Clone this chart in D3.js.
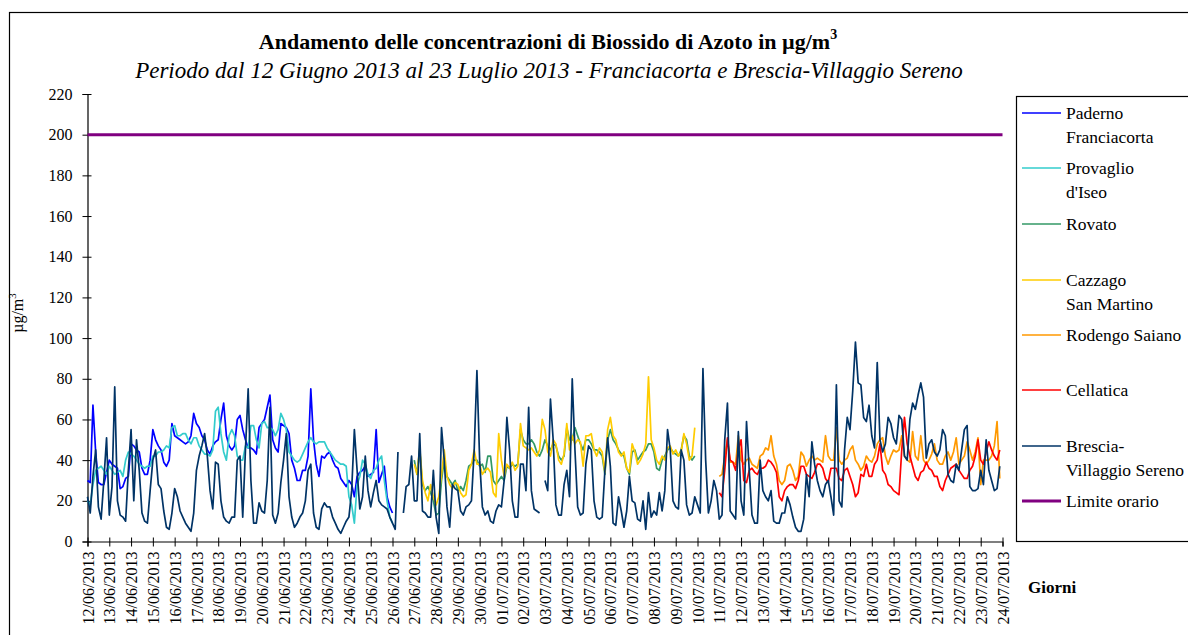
<!DOCTYPE html>
<html>
<head>
<meta charset="utf-8">
<script src="https://cdn.jsdelivr.net/npm/d3@7"></script>
<style>
  body { margin: 0; background: #fff; }
  svg { display: block; }
</style>
</head>
<body>
<svg id="chart" width="1188" height="635"></svg>
<script>
// ---- Data: NO2 readings in 3-hour steps, µg/m³ ----
const dateLabels = [
  "12/06/2013","13/06/2013","14/06/2013","15/06/2013","16/06/2013","17/06/2013","18/06/2013",
  "19/06/2013","20/06/2013","21/06/2013","22/06/2013","23/06/2013","24/06/2013","25/06/2013",
  "26/06/2013","27/06/2013","28/06/2013","29/06/2013","30/06/2013","01/07/2013","02/07/2013",
  "03/07/2013","04/07/2013","05/07/2013","06/07/2013","07/07/2013","08/07/2013","09/07/2013",
  "10/07/2013","11/07/2013","12/07/2013","13/07/2013","14/07/2013","15/07/2013","16/07/2013",
  "17/07/2013","18/07/2013","19/07/2013","20/07/2013","21/07/2013","22/07/2013","23/07/2013",
  "24/07/2013"
];
const stepHours = 3;
const yTicks = [0, 20, 40, 60, 80, 100, 120, 140, 160, 180, 200, 220];
const limitValue = 200;

// Paderno Franciacorta (from step 0)
const paderno = [
  30,29,67,44,29,28,28,34, 40,38,37,36,26,27,31,32, 48,47,45,44,36,33,33,40,
  55,50,47,45,39,37,40,58, 52,51,50,49,48,49,52,63, 58,56,52,50,45,43,47,49,
  50,60,68,52,47,45,47,60, 62,55,50,46,46,45,43,56, 58,60,66,72,50,46,44,58,
  57,56,53,40,36,30,30,35, 35,42,75,50,38,32,42,41, 43,44,40,37,36,31,29,27,
  30,28,22,32,34,35,37,32, 33,34,55,29,33,37,22,17, 14
];
// Provaglio d'Iseo (from step 0)
const provaglio = [
  20,18,28,35,36,37,35,33, 37,35,33,34,35,32,40,44, 43,42,40,38,37,36,37,37,
  42,42,44,44,45,47,46,56, 57,52,52,53,53,50,48,51, 51,47,45,43,43,42,45,64,
  66,53,44,40,52,55,52,42, 40,40,47,46,57,57,50,46, 58,59,56,56,55,52,55,63,
  60,55,44,42,40,39,40,43, 46,49,51,49,48,49,49,49, 46,44,42,40,39,38,38,37,
  22,18,9,28,32,40,38,33, 31,35,36,40,42,30,20,12, 9
];
// Rovato (from step 120)
const rovato = [
  40,33,45,28,25,27,24,20, 13,14,30,40,32,30,28,30, 25,27,25,30,37,38,40,40,
  37,38,34,42,42,30,28,30, 32,30,37,36,38,37,38,55, 50,48,48,50,48,44,42,45,
  50,47,45,48,47,42,40,42, 56,50,50,56,52,48,45,50, 50,48,45,45,44,42,33,50,
  55,50,48,45,43,42,36,33, 44,45,40,42,44,45,48,48, 44,36,35,40,42,45,46,44,
  43,42,45,52,50,42,40,42
];
// Cazzago San Martino (from step 120)
const cazzago = [
  38,33,46,30,24,20,28,22, 18,22,33,45,32,28,26,29, 28,24,22,23,35,38,45,38,
  38,33,35,36,34,24,22,53, 40,32,38,36,39,35,37,58, 47,46,45,46,44,42,45,60,
  55,44,42,50,48,40,38,43, 58,45,52,48,50,49,37,52, 52,53,45,42,46,44,34,55,
  61,52,50,44,42,44,36,34, 48,44,38,40,43,48,81,50, 46,40,38,42,40,46,47,43,
  45,42,44,53,48,40,42,56
];
// Rodengo Saiano (from step 232)
const rodengo = [
  32,33,42,50,39,39,38,52, 40,38,40,41,38,37,36,42, 43,46,45,52,42,38,30,28,
  30,37,38,35,30,32,44,42, 37,40,42,40,41,40,39,52, 42,40,40,56,40,38,40,41,
  45,47,40,38,35,37,42,40, 39,42,48,50,51,42,38,42, 45,44,45,52,42,40,39,54,
  42,40,52,40,38,40,43,48, 40,38,38,42,44,40,44,51, 38,40,42,49,45,40,44,51,
  28,40,40,40,42,47,59,31
];
// Cellatica (from step 232)
const cellatica = [
  24,22,35,51,40,39,35,45, 50,30,29,35,36,34,33,36, 36,37,40,39,37,34,22,20,
  25,27,28,28,26,30,37,37, 33,32,31,34,38,38,36,31, 29,36,36,36,31,30,35,36,
  32,28,22,24,33,32,38,32, 32,38,40,48,35,33,28,27, 25,24,23,45,61,48,42,37,
  32,30,34,35,39,36,35,32, 32,27,25,30,33,36,37,38, 35,33,31,31,35,37,42,50,
  40,38,44,49,45,42,40,45
];
// Brescia - Villaggio Sereno (from step 0, null = missing)
const brescia = [
  22,14,32,45,17,11,30,51, 13,27,76,20,13,12,10,35, 55,20,50,35,14,10,9,25,
  40,45,28,26,15,7,6,14, 26,22,15,12,9,7,5,14, 35,42,47,53,42,25,16,39,
  38,20,12,10,9,12,12,40, 42,12,45,75,30,9,9,19, 15,14,30,66,13,9,14,29,
  40,53,22,12,7,9,12,14, 20,35,38,14,7,6,16,19, 17,17,12,9,6,4,7,10,
  12,25,55,35,16,22,42,25, 17,24,30,20,18,17,16,12, 9,6,44,null,14,27,28,42,
  20,20,53,15,14,12,12,35, 12,4,56,40,17,7,28,26, 25,15,13,17,18,20,45,84,
  40,17,13,15,10,9,15,18, 17,30,61,45,20,12,12,38, 38,25,66,25,16,15,14,null,
  30,25,70,50,18,13,13,28, 35,22,80,45,17,13,14,38, 47,45,20,12,11,12,35,51,
  37,9,8,22,15,7,15,32, 20,19,11,10,20,6,24,12, 15,13,24,15,25,55,45,20,
  17,16,45,40,18,13,14,22, 18,14,85,40,14,20,30,25, 11,13,50,68,15,13,11,54,
  20,13,59,35,13,9,9,40, 25,22,20,25,10,9,9,14, 14,22,18,12,7,5,5,11,
  33,22,49,38,30,25,22,28, 30,22,13,77,20,17,45,61, 55,74,98,78,77,61,59,67,
  52,46,88,50,44,48,61,58, 51,48,62,60,42,40,60,68, 65,72,78,71,41,48,50,44,
  42,45,55,52,33,30,29,38, 35,45,55,57,27,25,25,26, 35,28,50,35,30,25,26,37
];

const series = [
  { label: ["Paderno", "Franciacorta"], color: "#0000ff", start: 0, values: paderno },
  { label: ["Provaglio", "d'Iseo"], color: "#33cccc", start: 0, values: provaglio },
  { label: ["Rovato"], color: "#339966", start: 120, values: rovato },
  { label: ["Cazzago", "San Martino"], color: "#ffcc00", start: 120, values: cazzago },
  { label: ["Rodengo Saiano"], color: "#ff9900", start: 232, values: rodengo },
  { label: ["Cellatica"], color: "#ff0000", start: 232, values: cellatica },
  { label: ["Brescia-", "Villaggio Sereno"], color: "#003366", start: 0, values: brescia }
];

// ---- Layout ----
const FONT = "'Liberation Serif', 'Times New Roman', Times, serif";
const svg = d3.select("#chart");
const plot = { left: 87.5, right: 1002.5, top: 94, bottom: 541.5 };
const totalHours = (dateLabels.length - 1) * 24;

const x = d3.scaleLinear().domain([0, totalHours]).range([plot.left, plot.right]);
const y = d3.scaleLinear().domain([0, 220]).range([plot.bottom, plot.top]);

// outer frame
svg.append("rect")
  .attr("x", 9.5).attr("y", 12.5).attr("width", 1300).attr("height", 800)
  .attr("fill", "#fff").attr("stroke", "#000").attr("stroke-width", 1.2);

// titles
const title = svg.append("text")
  .attr("x", 548).attr("y", 49).attr("text-anchor", "middle")
  .style("font-family", FONT).style("font-size", "22px").style("font-weight", "bold");
title.append("tspan").text("Andamento delle concentrazioni di Biossido di Azoto in µg/m");
title.append("tspan").attr("dy", -10).style("font-size", "14px").text("3");

svg.append("text")
  .attr("x", 549).attr("y", 78).attr("text-anchor", "middle")
  .style("font-family", FONT).style("font-size", "23px").style("font-style", "italic")
  .text("Periodo dal 12 Giugno 2013 al 23 Luglio 2013 - Franciacorta e Brescia-Villaggio Sereno");

// y axis
const yAxis = svg.append("g")
  .attr("transform", `translate(${plot.left},0)`)
  .call(d3.axisLeft(y).tickValues(yTicks).tickSize(5).tickPadding(10).tickFormat(d3.format("d")));
yAxis.select(".domain").attr("stroke", "#000").attr("stroke-width", 1.2);
yAxis.selectAll(".tick line").attr("x1", 4).attr("x2", -5).attr("stroke", "#000");
yAxis.selectAll(".tick text").style("font-family", FONT).style("font-size", "16px");

// x axis
const xAxis = svg.append("g")
  .attr("transform", `translate(0,${plot.bottom})`)
  .call(d3.axisBottom(x)
    .tickValues(dateLabels.map((_, i) => i * 24))
    .tickFormat((d, i) => dateLabels[i])
    .tickSize(5));
xAxis.select(".domain").attr("stroke", "#000").attr("stroke-width", 1.2);
xAxis.selectAll(".tick line").attr("y1", -4).attr("y2", 5).attr("stroke", "#000");
xAxis.selectAll(".tick text")
  .style("font-family", FONT)
  .style("font-size", "16px")
  .attr("text-anchor", "end")
  .attr("transform", "rotate(-90)")
  .attr("x", -10).attr("y", 0).attr("dy", "0.35em");

// axis titles
const yTitle = svg.append("text")
  .attr("transform", "translate(23,313) rotate(-90)")
  .attr("text-anchor", "middle")
  .style("font-family", FONT).style("font-size", "16px");
yTitle.append("tspan").text("µg/m");
yTitle.append("tspan").attr("dy", -7).style("font-size", "11px").text("3");

svg.append("text").attr("x", 1028).attr("y", 593)
  .style("font-family", FONT).style("font-size", "17px").style("font-weight", "bold").text("Giorni");

// series lines
const line = d3.line()
  .defined(d => d.v !== null)
  .x(d => x(d.h))
  .y(d => y(d.v));

series.forEach(s => {
  const pts = s.values.map((v, i) => ({ h: (s.start + i) * stepHours, v }));
  svg.append("path")
    .datum(pts)
    .attr("d", line)
    .attr("fill", "none")
    .attr("stroke", s.color)
    .attr("stroke-width", 1.7)
    .attr("stroke-linejoin", "round");
});

// hourly limit
svg.append("line")
  .attr("x1", x(0)).attr("x2", x(totalHours))
  .attr("y1", y(limitValue)).attr("y2", y(limitValue))
  .attr("stroke", "#800080").attr("stroke-width", 3);

// legend
const legend = svg.append("g");
legend.append("rect")
  .attr("x", 1016.5).attr("y", 96.5).attr("width", 300).attr("height", 445)
  .attr("fill", "#fff").attr("stroke", "#000").attr("stroke-width", 1.2);

const legendItems = series.map(s => ({ label: s.label, color: s.color, width: 1.7 }))
  .concat([{ label: ["Limite orario"], color: "#800080", width: 3 }]);
const legendRowY = [113, 168, 224, 280, 335, 390, 446, 501];

legendItems.forEach((item, i) => {
  const ly = legendRowY[i];
  legend.append("line")
    .attr("x1", 1022).attr("x2", 1061).attr("y1", ly).attr("y2", ly)
    .attr("stroke", item.color).attr("stroke-width", item.width);
  item.label.forEach((t, j) => {
    legend.append("text")
      .attr("x", 1066).attr("y", ly + j * 23.5).attr("dy", "0.35em")
      .style("font-family", FONT).style("font-size", "17.5px").text(t);
  });
});
</script>
</body>
</html>
